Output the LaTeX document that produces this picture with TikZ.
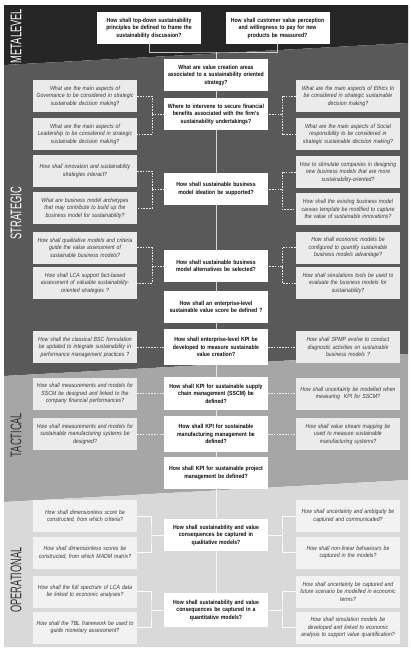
\documentclass[tikz,border=0pt]{standalone}
\usepackage{fontspec}
\setmainfont{Liberation Sans}
\newfontfamily\bxfont[FakeStretch=0.86]{Liberation Sans}
\newfontfamily\bandfont[FakeStretch=0.6]{Liberation Sans}
\definecolor{metabg}{HTML}{262626}
\definecolor{stratbg}{HTML}{595959}
\definecolor{tactbg}{HTML}{A6A6A6}
\definecolor{operbg}{HTML}{D9D9D9}
\definecolor{sidefill}{HTML}{EBEBEB}
\definecolor{opsidefill}{HTML}{F2F2F2}
\definecolor{sidetext}{HTML}{3A3A3A}
\definecolor{centtext}{HTML}{111111}
\tikzset{
  basebox/.style={text width=100pt, inner xsep=2pt, inner ysep=1pt, minimum height=32pt, align=center},
  cb/.style={basebox, fill=white, text=centtext, font=\bxfont\bfseries\fontsize{6}{7.5}\selectfont},
  sb/.style={basebox, fill=sidefill, text=sidetext, font=\bxfont\itshape\fontsize{6}{7.5}\selectfont},
  ob/.style={sb, fill=opsidefill},
  spine/.style={draw=white, draw opacity=0.75, line width=0.8pt},
  dsh/.style={draw=white, draw opacity=0.85, line width=0.7pt, dash pattern=on 1.6pt off 1.2pt},
  opl/.style={draw=white, draw opacity=0.9, line width=0.6pt},
  bandlabel/.style={rotate=90, font=\bandfont\fontsize{15.5}{15.5}\selectfont, inner sep=0pt}
}
\begin{document}
\begin{tikzpicture}[x=1pt, y=-1pt]
\useasboundingbox (0,0) rectangle (411,649);
\fill[white] (0,0) rectangle (411,649);
% bands
\fill[metabg] (4,5) -- (408,5) -- (408,43) -- (4,65) -- cycle;
\fill[stratbg] (4,65) -- (408,43) -- (408,354) -- (4,376) -- cycle;
\fill[tactbg] (4,376) -- (408,354) -- (408,480) -- (4,502) -- cycle;
\fill[operbg] (4,502) -- (408,480) -- (408,647) -- (4,647) -- cycle;
% band labels
\node[bandlabel, text=white] (lmeta) at (16,36) {METALEVEL};
\node[bandlabel, text=white] (lstrat) at (16,213) {STRATEGIC};
\node[bandlabel, text=black!80] (ltact) at (16,435) {TACTICAL};
\node[bandlabel, text=black!80] (loper) at (16,580) {OPERATIONAL};
% metalevel
\node[cb] (TL) at (149,28) {How shall top-down sustainability\\principles be defined to frame the\\sustainability discussion?};
\node[cb] (TR) at (277.5,28) {How shall customer value perception\\and willingness to pay for new\\products be measured?};
% strategic center
\node[cb] (C1) at (216,75) {What are value creation areas\\associated to a sustainability oriented\\strategy?};
\node[cb] (C2) at (216,114) {Where to intervene to secure financial\\benefits associated with the firm's\\sustainability undertakings?};
\node[cb] (C3) at (216,189) {How shall sustainable business\\model ideation be supported?};
\node[cb] (C4) at (216,266) {How shall sustainable business\\model alternatives be selected?};
\node[cb] (C5) at (216,307) {How shall an enterprise-level\\sustainable value score be defined ?};
\node[cb, minimum height=36pt] (C6) at (216,347) {How shall enterprise-level KPI be\\developed to measure sustainable\\value creation?};
% tactical center
\node[cb, minimum height=33pt] (C7) at (216,393.5) {How shall KPI for sustainable supply\\chain management (SSCM) be\\defined?};
\node[cb, minimum height=36pt] (C8) at (216,434) {How shall KPI for sustainable\\manufacturing management be\\defined?};
\node[cb] (C9) at (216,473) {How shall KPI for sustainable project\\management be defined?};
% operational center
\node[cb] (C10) at (216,535) {How shall sustainability and value\\consequences be captured in\\qualitative models?};
\node[cb, minimum height=34pt] (C11) at (216,610) {How shall sustainability and value\\consequences be captured in a\\quantitative models?};
% strategic left
\node[sb] (L1) at (85,96) {What are the main aspects of\\Governance to be considered in strategic\\sustainable decision making?};
\node[sb] (L2) at (85,134) {What are the main aspects of\\Leadership to be considered in strategic\\sustainable decision making?};
\node[sb] (L3) at (85,171) {How shall innovation and sustainability\\strategies interact?};
\node[sb] (L4) at (85,208) {What are business model archetypes\\that may contribute to build up the\\business model for sustainability?};
\node[sb] (L5) at (85,247.5) {How shall qualitative models and criteria\\guide the value assessment of\\sustainable business models?};
\node[sb] (L6) at (85,283) {How shall LCA support fact-based\\assessment of valuable sustainability-\\oriented strategies ?};
\node[sb] (L7) at (85,347) {How shall the classical BSC formulation\\be updated to integrate sustainability in\\performance management practices ?};
% strategic right
\node[sb] (R1) at (348,96) {What are the main aspects of Ethics to\\be considered in strategic sustainable\\decision making?};
\node[sb] (R2) at (348,134) {What are the main aspects of Social\\responsibility to be considered in\\strategic sustainable decision making?};
\node[sb] (R3) at (348,172) {How to stimulate companies in designing\\new business models that are more\\sustainability-oriented?};
\node[sb] (R4) at (348,209) {How shall the existing business model\\canvas template be modified to capture\\the value of sustainable innovations?};
\node[sb] (R5) at (348,247.5) {How shall economic models be\\configured to quantify sustainable\\business models advantage?};
\node[sb] (R6) at (348,283) {How shall simulations tools be used to\\evaluate the business models for\\sustainability?};
\node[sb] (R7) at (348,347) {How shall SPMP evolve to conduct\\diagnostic activities on sustainable\\business models ?};
% tactical sides
\node[sb] (L8) at (85,393.5) {How shall measurements and models for\\SSCM be designed and linked to the\\company financial performances?};
\node[sb] (L9) at (85,434) {How shall measurements and models for\\sustainable manufacturing systems be\\designed?};
\node[sb] (R8) at (348,393.5) {How shall uncertainty be modelled when\\measuring\ \ KPI for SSCM?};
\node[sb] (R9) at (348,434) {How shall value stream mapping be\\used to measure sustainable\\manufacturing systems?};
% operational sides
\node[ob] (L10) at (85,516) {How shall dimensionless score be\\constructed, from which criteria?};
\node[ob] (L11) at (85,552.5) {How shall dimensionless scores be\\constructed, from which MADM matrix?};
\node[ob] (L12) at (85,591.5) {How shall the full spectrum of LCA data\\be linked to economic analyses?};
\node[ob] (L13) at (85,627.5) {How shall the TBL framework be used to\\guide monetary assessment?};
\node[ob] (R10) at (348,516) {How shall uncertainty and ambiguity be\\captured and communicated?};
\node[ob] (R11) at (348,552.5) {How shall non-linear behaviours be\\captured in the models?};
\node[ob] (R12) at (348,591.5) {How shall uncertainty be captured and\\future scenario be modelled in economic\\terms?};
\node[ob] (R13) at (348,627.5) {How shall simulation models be\\developed and linked to economic\\analysis to support value quantification?};
% junction coordinates
\coordinate (j0) at (216,52);
\coordinate (bl1) at (152,114);
\coordinate (br1) at (282,114);
\coordinate (bl2) at (152,189);
\coordinate (br2) at (282,189);
\coordinate (bl3) at (152,266);
\coordinate (br3) at (282,266);
\coordinate (bo1l) at (151,535);
\coordinate (bo1r) at (282,535);
\coordinate (bo2l) at (151,610);
\coordinate (bo2r) at (282,610);
% top connector
\draw[spine] (TL.south) |- (j0) -| (TR.south);
\draw[spine] (j0) -- (C1.north);
% spine
\draw[spine] (C1.south) -- (C2.north);
\draw[spine] (C2.south) -- (C3.north);
\draw[spine] (C3.south) -- (C4.north);
\draw[spine] (C4.south) -- (C5.north);
\draw[spine] (C5.south) -- (C6.north);
\draw[spine] (C6.south) -- (C7.north);
\draw[spine] (C7.south) -- (C8.north);
\draw[spine] (C8.south) -- (C9.north);
\draw[spine] (C9.south) -- (C10.north);
\draw[spine] (C10.south) -- (C11.north);
% dashed brackets
\draw[dsh] (L1.east) -| (bl1) |- (L2.east);
\draw[dsh] (bl1) -- (C2.west);
\draw[dsh] (R1.west) -| (br1) |- (R2.west);
\draw[dsh] (br1) -- (C2.east);
\draw[dsh] (L3.east) -| (bl2) |- (L4.east);
\draw[dsh] (bl2) -- (C3.west);
\draw[dsh] (R3.west) -| (br2) |- (R4.west);
\draw[dsh] (br2) -- (C3.east);
\draw[dsh] (L5.east) -| (bl3) |- (L6.east);
\draw[dsh] (bl3) -- (C4.west);
\draw[dsh] (R5.west) -| (br3) |- (R6.west);
\draw[dsh] (br3) -- (C4.east);
% straight dashed
\draw[dsh] (L7.east) -- (C6.west);
\draw[dsh] (C6.east) -- (R7.west);
\draw[dsh] (L8.east) -- (C7.west);
\draw[dsh] (C7.east) -- (R8.west);
\draw[dsh] (L9.east) -- (C8.west);
\draw[dsh] (C8.east) -- (R9.west);
% operational brackets
\draw[opl] (L10.east) -| (bo1l) |- (L11.east);
\draw[opl] (bo1l) -- (C10.west);
\draw[opl] (R10.west) -| (bo1r) |- (R11.west);
\draw[opl] (bo1r) -- (C10.east);
\draw[opl] (L12.east) -| (bo2l) |- (L13.east);
\draw[opl] (bo2l) -- (C11.west);
\draw[opl] (R12.west) -| (bo2r) |- (R13.west);
\draw[opl] (bo2r) -- (C11.east);
\end{tikzpicture}
\end{document}
